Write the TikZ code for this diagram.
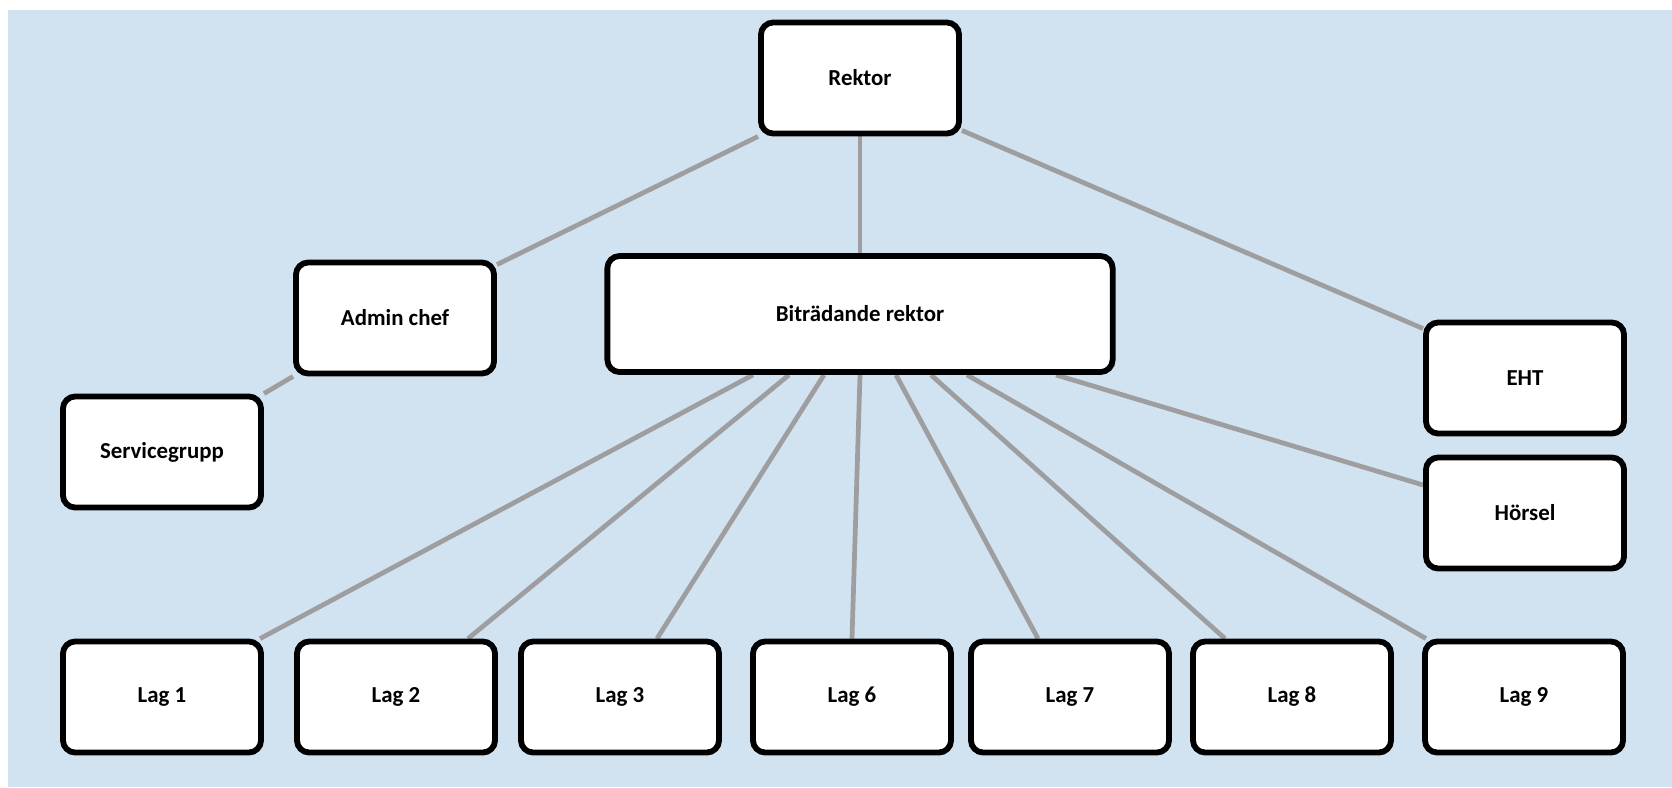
\documentclass[tikz,border=0pt]{standalone}
\usepackage{fontspec}
\setmainfont{Carlito}
\usetikzlibrary{backgrounds}
\definecolor{orgblue}{RGB}{209,227,241}
\definecolor{orggray}{RGB}{158,158,160}

\begin{document}
\begin{tikzpicture}[x=0.01cm,y=-0.01cm,
  box/.style={draw=black,fill=white,line width=1.65pt,rounded corners=3.5pt,
    minimum width=1.98cm,minimum height=1.11cm,
    font=\bfseries\fontsize{6.5}{8}\selectfont},
  link/.style={draw=orggray,line width=1.35pt}]
\useasboundingbox (0,0) rectangle (1672,787);

% Leadership
\node[box] (rektor) at (860,78) {Rektor};
\node[box] (admin) at (395,318) {Admin chef};
\node[box] (service) at (162,452) {Servicegrupp};
\node[box,minimum width=5.05cm,minimum height=1.16cm] (bitr) at (860,314) {Biträdande rektor};
\node[box] (eht) at (1525,378) {EHT};
\node[box] (horsel) at (1525,513) {Hörsel};

% Teams
\foreach \n/\x in {1/162, 2/396, 3/620, 6/852, 7/1070, 8/1292, 9/1524} {
    \node[box] (lag\n) at (\x,697) {Lag \n};
}

% Lines behind the boxes
\begin{scope}[on background layer]
\fill[orgblue] (8,10) rectangle (1672,787);
\draw[link] (rektor.south west) -- ([yshift=-0.05cm]admin.north east);
\draw[link] (rektor.south) -- (bitr.north);
\draw[link] ([yshift=0.06cm]rektor.south east) -- ([yshift=-0.09cm]eht.north west);
\draw[link] (admin.south west) -- (service.north east);
\draw[link] ([xshift=1.96cm]bitr.south) -- ([yshift=0.28cm]horsel.west);
\foreach \n/\s/\e in {1/-1.07/0.98, 2/-0.71/0.72, 3/-0.36/0.37, 6/0/0,
                      7/0.36/-0.32, 8/0.71/-0.67, 9/1.07/-0.98} {
    \draw[link] ([xshift=\s cm]bitr.south) -- ([xshift=\e cm]lag\n.north);
}
\end{scope}
\end{tikzpicture}
\end{document}
